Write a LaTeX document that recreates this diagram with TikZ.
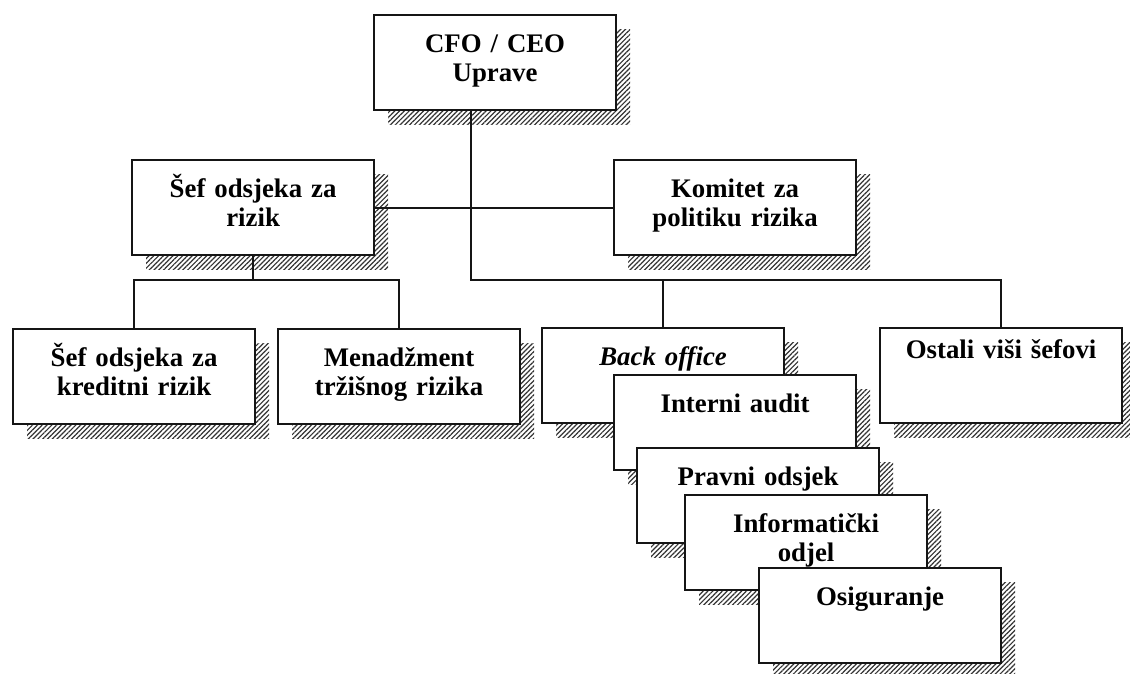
\documentclass[tikz,border=0pt]{standalone}
\usepackage{fontspec}
\setmainfont{Liberation Serif}
\usetikzlibrary{calc,patterns.meta}
\definecolor{orgInk}{HTML}{151515}
\definecolor{orgHatch}{HTML}{333333}

\begin{document}
\begin{tikzpicture}[x=0.5pt,y=-0.5pt,font=\fontsize{13.4}{14.5}\selectfont\bfseries,
      unit/.style={draw=orgInk,line width=1.1pt,fill=white,anchor=north west,text width=121pt,align=center,inner sep=0pt,text height=18.5pt,text depth=29pt,
        preaction={draw=none,pattern={Lines[angle=45,distance=1.7pt,line width=0.6pt]},pattern color=orgHatch,transform canvas={shift={(7pt,-7pt)}}}},
      link/.style={draw=orgInk,line width=1pt}]
    \useasboundingbox (0,0) rectangle (1130,674);
    \node[unit] (cfo) at (373,14) {CFO / CEO\\ Uprave};
    \node[unit] (rizik) at (131,159) {Šef odsjeka za\\ rizik};
    \node[unit] (komitet) at (613,159) {Komitet za\\ politiku rizika};
    \node[unit] (kredit) at (12,328) {Šef odsjeka za\\ kreditni rizik};
    \node[unit] (trziste) at (277,328) {Menadžment\\ tržišnog rizika};
    \node[unit] (back) at (541,327) {\textit{Back office}};
    \node[unit,text height=15pt,text depth=32.5pt] (ostali) at (879,327) {Ostali viši šefovi};
    \node[unit] (audit) at (613,374) {Interni audit};
    \node[unit] (pravni) at (636,447) {Pravni odsjek};
    \node[unit] (info) at (684,494) {Informatički\\ odjel};
    \node[unit] (osig) at (758,567) {Osiguranje};
    % spojnice
    \coordinate (stem) at ($(cfo.south west)!.4!(cfo.south east)$);
    \coordinate (busTop) at ($(stem)+(0,169)$);
    \coordinate (busRisk) at ($(rizik.south)+(0,24)$);
    \draw[link] (rizik.east) -- (komitet.west);
    \draw[link] (stem) -- (busTop) -| (ostali.north);
    \draw[link] (busTop) -| (back.north);
    \draw[link] (rizik.south) -- (busRisk);
    \foreach \t in {kredit,trziste}
      \draw[link] (busRisk) -| (\t.north);
  \end{tikzpicture}
\end{document}
